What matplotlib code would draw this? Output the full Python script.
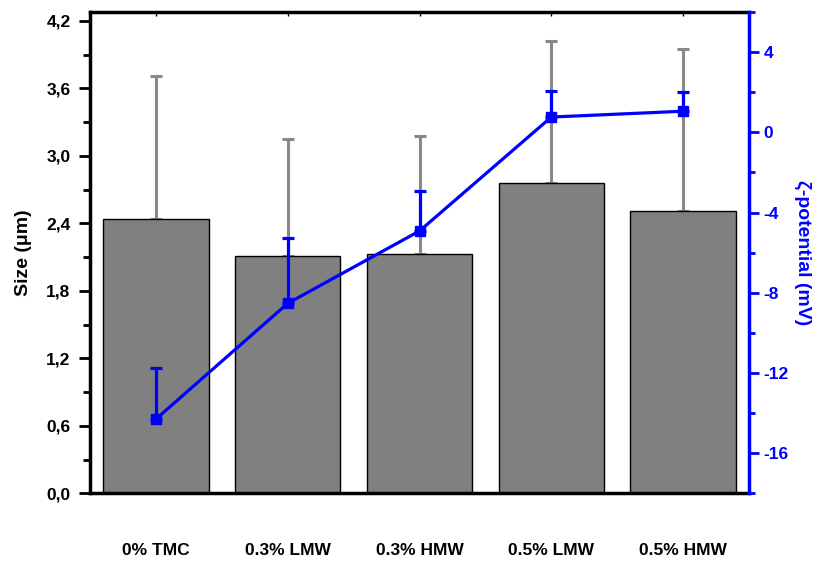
import matplotlib
matplotlib.use("Agg")
import matplotlib.pyplot as plt
from matplotlib.ticker import MultipleLocator, FuncFormatter

plt.rcParams['font.family'] = ['Liberation Sans', 'DejaVu Sans']
plt.rcParams['font.weight'] = 'bold'
plt.rcParams['axes.unicode_minus'] = False

# particle size and zeta potential for each formulation
groups = ['0% TMC', '0.3% LMW', '0.3% HMW', '0.5% LMW', '0.5% HMW']
size_um = [2.44, 2.11, 2.13, 2.76, 2.51]
size_err = [1.27, 1.04, 1.05, 1.26, 1.44]
zeta_mv = [-14.3, -8.53, -4.92, 0.76, 1.05]
zeta_err = [2.57, 3.24, 2.0, 1.3, 0.96]

fig = plt.figure(figsize=(8.22, 5.69), dpi=100)
ax = fig.add_axes([0.1095, 0.133, 0.8017, 0.846])
x = list(range(len(groups)))

ax.bar(x, size_um, width=0.8, color='#808080', edgecolor='black', linewidth=1.0, zorder=2)
ax.errorbar(x, size_um, yerr=[[0] * len(x), size_err], fmt='none', ecolor='#888888',
            elinewidth=2.2, capsize=4.5, capthick=2.2, zorder=1)

ax.set_xlim(-0.5, 4.5)
ax.set_ylim(0, 4.28)
ax.set_xticks(x)
ax.set_xticklabels(groups, fontsize=12.5, fontweight='bold')
ax.tick_params(axis='x', direction='in', length=3, width=1, pad=36, top=True)
ax.yaxis.set_major_locator(MultipleLocator(0.6))
ax.yaxis.set_minor_locator(MultipleLocator(0.3))
ax.yaxis.set_major_formatter(FuncFormatter(lambda v, p: f'{v:.1f}'.replace('.', ',')))
ax.tick_params(axis='y', which='major', direction='out', length=8, width=2,
               labelsize=12.5, pad=6)
ax.tick_params(axis='y', which='minor', direction='out', length=5, width=2)
for lab in ax.get_yticklabels():
    lab.set_fontweight('bold')
ax.set_ylabel('Size (μm)', fontsize=14, fontweight='bold', labelpad=10)
for side in ['left', 'bottom', 'top']:
    ax.spines[side].set_linewidth(2.5)
ax.spines['right'].set_visible(False)

# zeta potential on the secondary axis
ax2 = ax.twinx()
ax2.errorbar(x, zeta_mv, yerr=[[0] * len(x), zeta_err], color='blue', linewidth=2.3,
             marker='s', markersize=7, elinewidth=2.3, capsize=4.5, capthick=2.3, zorder=3)
ax2.set_ylim(-18, 6)
ax2.yaxis.set_major_locator(MultipleLocator(4))
ax2.yaxis.set_minor_locator(MultipleLocator(2))
ax2.tick_params(axis='y', which='major', direction='out', length=7, width=2,
                colors='blue', labelsize=12.5)
ax2.tick_params(axis='y', which='minor', direction='out', length=4, width=2, colors='blue')
for lab in ax2.get_yticklabels():
    lab.set_fontweight('bold')
ax2.set_ylabel('ζ-potential (mV)', fontsize=14, fontweight='bold', color='blue',
               rotation=270, labelpad=16)
ax2.spines['right'].set_color('blue')
ax2.spines['right'].set_linewidth(2.5)
for side in ['left', 'bottom', 'top']:
    ax2.spines[side].set_visible(False)

fig.savefig('out.png', dpi=100)
